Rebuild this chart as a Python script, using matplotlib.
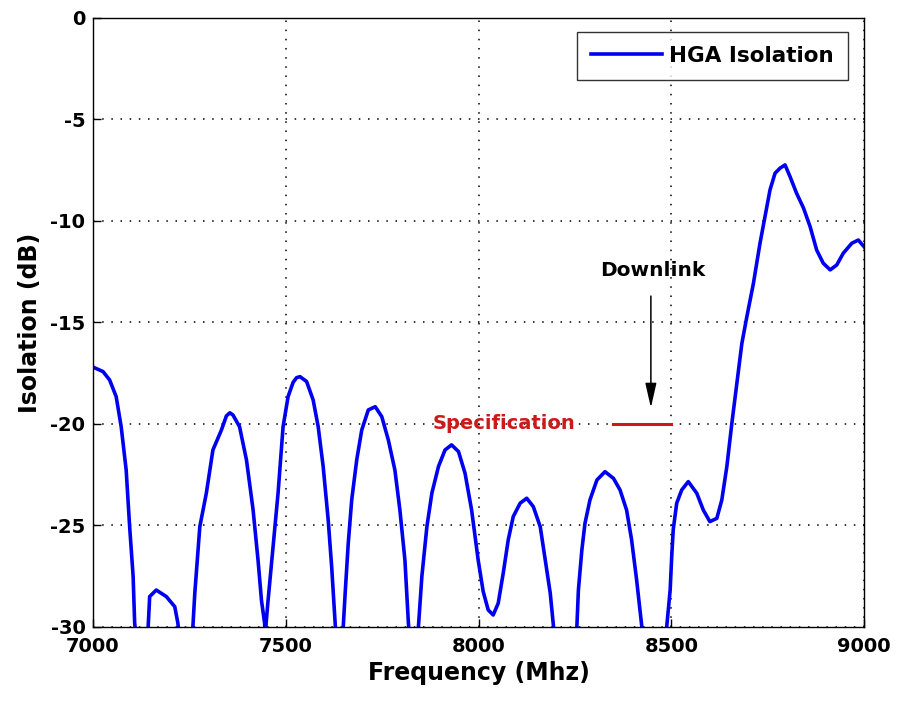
import matplotlib
matplotlib.use("Agg")
import matplotlib.pyplot as plt

# measured HGA isolation vs frequency (nulls drop below the -30 dB floor)
freq_mhz = [7000, 7026, 7043, 7060, 7073, 7086, 7095, 7104, 7108, 7125, 7143,
            7147, 7164, 7190, 7212, 7220, 7240, 7259, 7264, 7277, 7294, 7311,
            7333, 7346, 7355, 7363, 7380, 7398, 7415, 7428, 7437, 7445, 7447,
            7449, 7454, 7467, 7480, 7493, 7506, 7519, 7528, 7537, 7554, 7571,
            7584, 7597, 7610, 7619, 7628, 7638, 7649, 7654, 7662, 7671, 7684,
            7697, 7714, 7732, 7749, 7766, 7783, 7796, 7809, 7818, 7831, 7844,
            7853, 7866, 7879, 7896, 7913, 7930, 7948, 7965, 7982, 7999, 8012,
            8025, 8038, 8051, 8064, 8077, 8090, 8108, 8125, 8142, 8160, 8173,
            8186, 8194, 8225, 8255, 8259, 8268, 8276, 8289, 8307, 8328, 8350,
            8367, 8384, 8397, 8410, 8423, 8455, 8488, 8497, 8501, 8505, 8514,
            8527, 8544, 8566, 8583, 8600, 8618, 8631, 8644, 8657, 8670, 8683,
            8696, 8713, 8730, 8748, 8756, 8769, 8782, 8795, 8808, 8825, 8843,
            8860, 8877, 8894, 8912, 8929, 8946, 8968, 8985, 9000]
isolation_db = [-17.2, -17.42, -17.83, -18.65, -20.13, -22.27, -25.06, -27.5, -29.8, -33, -30.0,
                -28.5, -28.18, -28.5, -29.0, -29.8, -33, -30.0, -28.34, -25.06, -23.4, -21.28,
                -20.3, -19.6, -19.45, -19.56, -20.13, -21.77, -24.2, -26.7, -28.7, -29.8, -30.6,
                -29.8, -28.7, -26.05, -23.4, -20.13, -18.65, -17.95, -17.72, -17.67, -17.91, -18.82,
                -20.13, -22.1, -24.73, -27.03, -29.8, -33, -30.0, -28.34, -25.88, -23.74, -21.77,
                -20.3, -19.31, -19.15, -19.64, -20.79, -22.27, -24.24, -26.7, -29.8, -33, -30.0,
                -27.5, -25.06, -23.4, -22.1, -21.28, -21.03, -21.36, -22.43, -24.24, -26.7, -28.25,
                -29.16, -29.41, -28.83, -27.35, -25.71, -24.56, -23.9, -23.66, -24.07, -25.06, -26.7,
                -28.34, -29.9, -35, -30.0, -28.18, -26.2, -24.9, -23.74, -22.76, -22.35, -22.68,
                -23.25, -24.24, -25.71, -27.68, -29.9, -35, -30.0, -28.18, -26.54, -25.2, -23.9,
                -23.25, -22.84, -23.41, -24.24, -24.81, -24.65, -23.74, -22.1, -19.97, -18.0, -16.03,
                -14.71, -13.07, -11.1, -9.29, -8.47, -7.65, -7.4, -7.24, -7.82, -8.64, -9.37,
                -10.28, -11.43, -12.08, -12.41, -12.17, -11.59, -11.1, -10.94, -11.27]

# spec limit over the downlink band
spec_band = [8350, 8500]
spec_level = -20
downlink_freq = 8447

x_ticks = [7000, 7500, 8000, 8500, 9000]
y_ticks = [-30, -25, -20, -15, -10, -5, 0]

plt.rcParams['font.family'] = ['DejaVu Sans']
plt.rcParams['axes.unicode_minus'] = False

fig = plt.figure(figsize=(8.97, 7.01), dpi=100)
ax = fig.add_axes([0.1037, 0.1056, 0.8596, 0.8688])

ax.plot(freq_mhz, isolation_db, color='#0000f0', linewidth=2.6, label='HGA Isolation')

# specification bar and label
ax.plot(spec_band, [spec_level, spec_level], color='#cc1a1a', linewidth=2.2)
ax.text(8250, spec_level, 'Specification', color='#cc1a1a', fontsize=14,
        fontweight='bold', ha='right', va='center')

# downlink arrow
ax.annotate('', xy=(downlink_freq, -19.2), xytext=(downlink_freq, -13.7),
            arrowprops=dict(arrowstyle='-|>,head_length=0.75,head_width=0.17',
                            color='black', lw=1.1, mutation_scale=20,
                            shrinkA=0, shrinkB=0))
ax.text(downlink_freq + 5, -12.45, 'Downlink', fontsize=14.5, fontweight='bold',
        ha='center', va='center')

ax.set_xlim(7000, 9000)
ax.set_ylim(-30, 0)
ax.set_xticks(x_ticks)
ax.set_yticks(y_ticks)
ax.tick_params(direction='in', length=6, labelsize=14, width=1)
ax.tick_params(axis='x', pad=7)
ax.tick_params(axis='y', pad=5.5)
for lab in ax.get_xticklabels() + ax.get_yticklabels():
    lab.set_fontweight('bold')
ax.grid(True, color='black', linestyle=(0, (1, 5)), linewidth=1.1)

for side in ['top', 'bottom', 'left', 'right']:
    ax.spines[side].set_color('black')
    ax.spines[side].set_linewidth(1.0)

ax.set_xlabel('Frequency (Mhz)', fontsize=17, fontweight='bold', labelpad=4)
ax.set_ylabel('Isolation (dB)', fontsize=17, fontweight='bold', labelpad=6)

leg = ax.legend(loc='upper right', fontsize=15.5, frameon=True, fancybox=False,
                edgecolor='black', handlelength=3.3, handletextpad=0.35,
                borderpad=0.65, borderaxespad=0, bbox_to_anchor=(0.979, 0.977))
leg.get_frame().set_linewidth(1.0)
for t in leg.get_texts():
    t.set_fontweight('bold')

fig.savefig('out.png', dpi=100, facecolor='white')
